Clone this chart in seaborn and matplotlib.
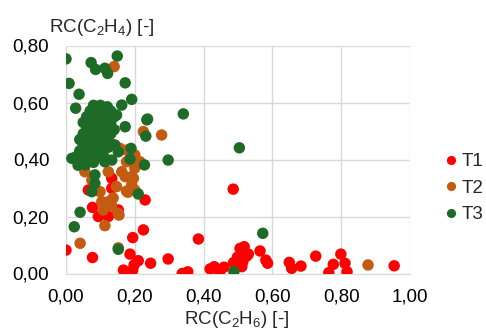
import numpy as np
import pandas as pd
import matplotlib
matplotlib.use("Agg")
import matplotlib.pyplot as plt
import seaborn as sns

# ---- data ----
t1_x = [0.00, 0.077, 0.167, 0.194, 0.198, 0.186, 0.21, 0.194, 0.225, 0.246, 0.297, 0.338, 0.354,
        0.385, 0.419, 0.431, 0.446, 0.459, 0.486, 0.487, 0.498, 0.506, 0.518, 0.511, 0.525, 0.53,
        0.504, 0.514, 0.517, 0.564, 0.581, 0.586, 0.649, 0.656, 0.683, 0.726, 0.764, 0.777, 0.799,
        0.811, 0.817, 0.954, 0.23, 0.077, 0.094, 0.123, 0.152, 0.133, 0.133, 0.065, 0.151]
t1_y = [0.082, 0.056, 0.012, 0.012, 0.03, 0.068, 0.045, 0.126, 0.153, 0.036, 0.051, 0.0, 0.006,
        0.121, 0.016, 0.024, 0.0, 0.022, 0.296, 0.038, 0.057, 0.088, 0.094, 0.024, 0.061, 0.068,
        0.047, 0.041, 0.076, 0.079, 0.047, 0.036, 0.039, 0.018, 0.026, 0.061, 0.003, 0.032, 0.068,
        0.036, 0.006, 0.027, 0.258, 0.232, 0.2, 0.2, 0.223, 0.334, 0.299, 0.293, 0.217]

t2_x = [0.878, 0.278, 0.225, 0.14, 0.041, 0.113, 0.152, 0.108, 0.133, 0.154, 0.104, 0.123, 0.133,
        0.157, 0.176, 0.2, 0.215, 0.123, 0.162, 0.172, 0.196, 0.191, 0.147, 0.176, 0.2, 0.055,
        0.075, 0.099, 0.137, 0.18, 0.2, 0.176, 0.152, 0.191]
t2_y = [0.03, 0.486, 0.498, 0.726, 0.106, 0.168, 0.09, 0.223, 0.237, 0.205, 0.252, 0.252, 0.454,
        0.439, 0.433, 0.416, 0.392, 0.357, 0.357, 0.34, 0.334, 0.311, 0.305, 0.289, 0.293, 0.357,
        0.328, 0.287, 0.265, 0.285, 0.37, 0.392, 0.211, 0.34]

t3_x = [0.0, 0.073, 0.086, 0.113, 0.121, 0.149, 0.009, 0.172, 0.038, 0.191, 0.028, 0.162, 0.147,
        0.237, 0.172, 0.341, 0.232, 0.297, 0.504, 0.572, 0.488, 0.152, 0.041, 0.024, 0.084, 0.075,
        0.21, 0.123, 0.142, 0.152, 0.189, 0.186, 0.228, 0.113, 0.133, 0.084, 0.017, 0.235,
        0.08, 0.10, 0.12, 0.07, 0.09, 0.11, 0.13, 0.06, 0.08, 0.10, 0.12, 0.14, 0.05, 0.07, 0.09,
        0.11, 0.13, 0.06, 0.08, 0.10, 0.12, 0.14, 0.05, 0.07, 0.09, 0.11, 0.13, 0.04, 0.06, 0.08,
        0.10, 0.12, 0.05, 0.07, 0.09, 0.11, 0.04, 0.06, 0.08, 0.10, 0.03, 0.05, 0.07, 0.09, 0.04,
        0.06, 0.08, 0.035, 0.11, 0.056]
t3_y = [0.753, 0.74, 0.716, 0.72, 0.702, 0.763, 0.667, 0.669, 0.629, 0.611, 0.58, 0.591, 0.556,
        0.542, 0.515, 0.56, 0.482, 0.398, 0.441, 0.141, 0.006, 0.085, 0.215, 0.164, 0.316, 0.287,
        0.279, 0.443, 0.451, 0.427, 0.439, 0.401, 0.381, 0.392, 0.398, 0.346, 0.404, 0.539,
        0.59, 0.59, 0.585, 0.57, 0.57, 0.575, 0.57, 0.55, 0.55, 0.555, 0.55, 0.55, 0.53, 0.53, 0.535,
        0.53, 0.53, 0.51, 0.51, 0.515, 0.51, 0.505, 0.49, 0.49, 0.495, 0.49, 0.49, 0.47, 0.47, 0.475,
        0.47, 0.47, 0.45, 0.45, 0.455, 0.45, 0.43, 0.43, 0.435, 0.43, 0.41, 0.41, 0.415, 0.41, 0.39,
        0.395, 0.39, 0.38, 0.41, 0.381]

groups = ["T1", "T2", "T3"]
colors = ["#FF0000", "#C55A11", "#1E6B27"]
x_ticks = [0.0, 0.2, 0.4, 0.6, 0.8, 1.0]
y_ticks = [0.0, 0.2, 0.4, 0.6, 0.8]
x_title = r"RC(C$_2$H$_6$) [-]"
y_title = r"RC(C$_2$H$_4$) [-]"

df = pd.concat([
    pd.DataFrame({"x": t1_x, "y": t1_y, "g": "T1"}),
    pd.DataFrame({"x": t2_x, "y": t2_y, "g": "T2"}),
    pd.DataFrame({"x": t3_x, "y": t3_y, "g": "T3"}),
], ignore_index=True)

sns.set_style("white")
plt.rcParams["font.family"] = ["Liberation Sans", "DejaVu Sans"]
plt.rcParams["mathtext.fontset"] = "custom"
plt.rcParams["mathtext.rm"] = "Liberation Sans"
plt.rcParams["mathtext.it"] = "Liberation Sans"

FS = 13.5
fig = plt.figure(figsize=(4.86, 3.29), dpi=100)
ax = fig.add_axes([66 / 486, 1 - 273.5 / 329, 344 / 486, 228 / 329])

sns.scatterplot(data=df, x="x", y="y", hue="g", hue_order=groups,
                palette=dict(zip(groups, colors)), s=68, linewidth=0,
                alpha=1, ax=ax, legend=True, zorder=3)

ax.set_xlim(0, 1.0)
ax.set_ylim(0, 0.8)
ax.set_xticks(x_ticks)
ax.set_yticks(y_ticks)
fmt = lambda v: f"{v:.2f}".replace(".", ",")
ax.set_xticklabels([fmt(v) for v in x_ticks])
ax.set_yticklabels([fmt(v) for v in y_ticks])
ax.tick_params(axis="both", length=0, labelsize=FS, colors="#000000")
ax.tick_params(axis="x", pad=10.5)
ax.tick_params(axis="y", pad=12)
ax.grid(True, color="#D9D9D9", linewidth=1)
ax.set_axisbelow(True)
for sp in ax.spines.values():
    sp.set_visible(False)
ax.spines["left"].set_visible(True)
ax.spines["bottom"].set_visible(True)
ax.spines["left"].set_color("#D9D9D9")
ax.spines["bottom"].set_color("#D9D9D9")
ax.set_xlabel("")
ax.set_ylabel("")

fig.text(102 / 486, 1 - 27 / 329, y_title, fontsize=FS, ha="center", va="center")
fig.text(237 / 486, 1 - 320 / 329, x_title, fontsize=FS, ha="center", va="center")

handles, labels = ax.get_legend_handles_labels()
ax.legend(handles, labels, loc="center left", bbox_to_anchor=(436 / 486, 1 - 188 / 329),
          bbox_transform=fig.transFigure, frameon=False, fontsize=FS,
          handlelength=0.6, handletextpad=0.25, labelspacing=0.5, markerscale=0.8,
          borderpad=0, title=None)

fig.savefig("out.png", dpi=100)
